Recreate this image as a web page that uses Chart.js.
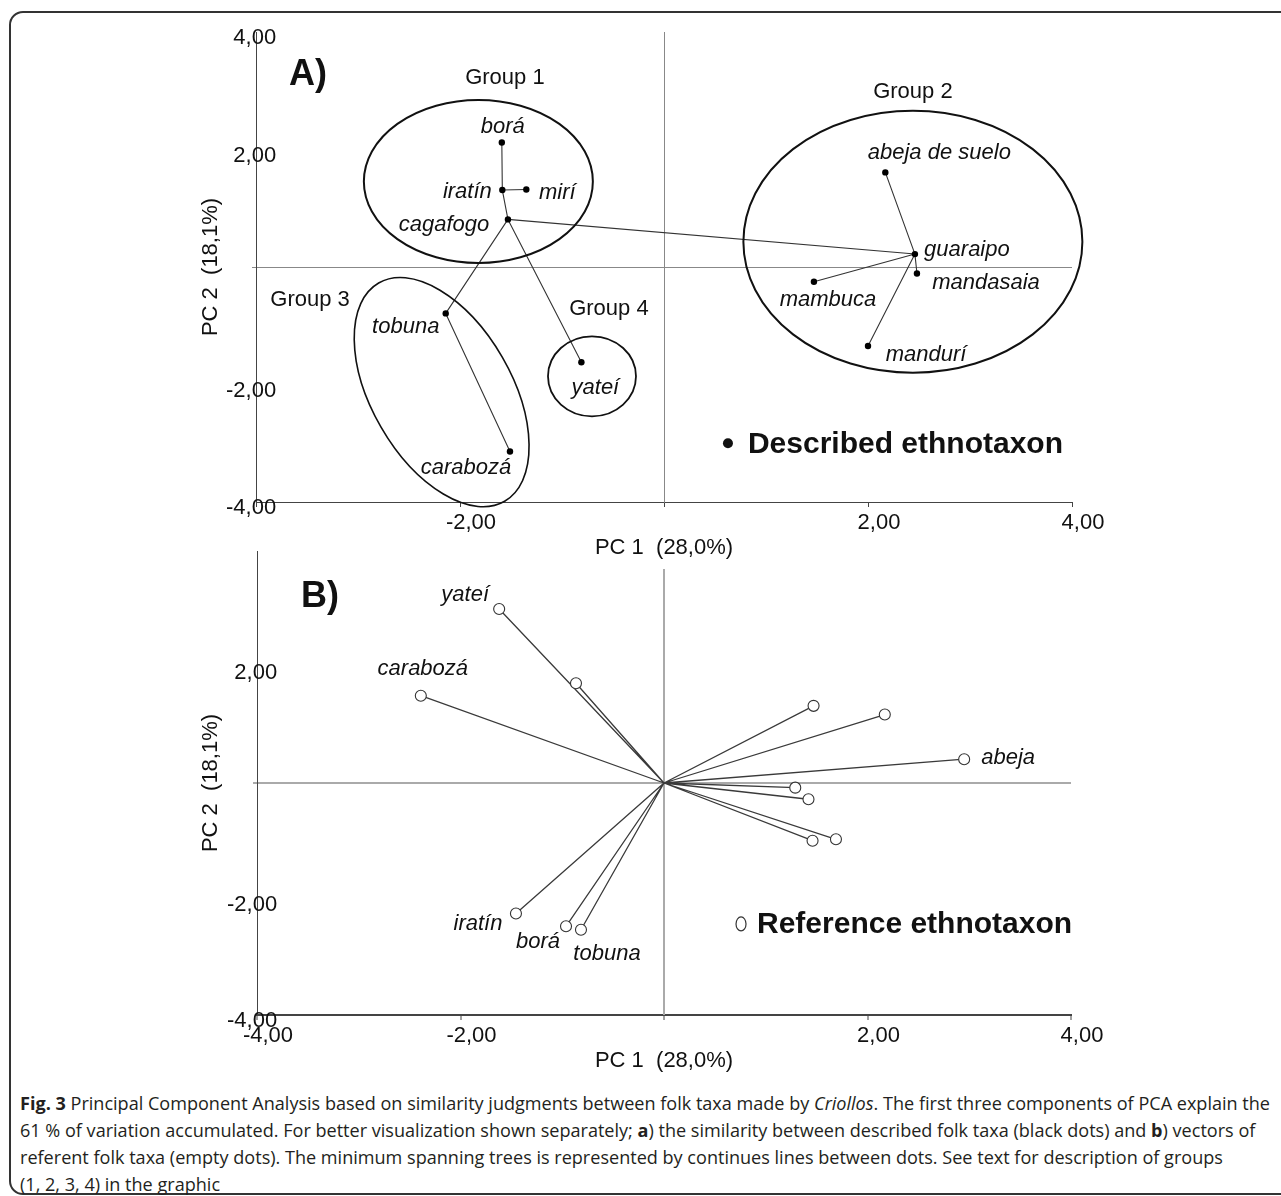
<!DOCTYPE html>
<html>
<head>
<meta charset="utf-8">
<title>PCA folk taxa</title>
<script src="https://cdn.jsdelivr.net/npm/chart.js@4.4.1/dist/chart.umd.min.js"></script>
<style>
  html, body { margin: 0; padding: 0; background: #fff; }
  body { width: 1281px; height: 1196px; position: relative; overflow: hidden; }
  .frame { position: absolute; left: 9px; top: 11px; width: 1330px; height: 1184px;
           border: 2px solid #333; border-radius: 14px; box-sizing: border-box; }
  canvas { position: absolute; left: 0; }
  #chartA { top: 0; }
  #chartB { top: 530px; }
  #caption { position: absolute; left: 20px; top: 1090px; font-family: "Open Sans", sans-serif;
             font-size: 18px; line-height: 27px; color: #231f20; white-space: nowrap; transform-origin: 0 0; }
  #caption div span { display: inline-block; }
</style>
</head>
<body>
<div class="frame"></div>
<canvas id="chartA" width="1281" height="565"></canvas>
<canvas id="chartB" width="1281" height="550"></canvas>
<div id="caption">
  <div><span id="capLine1"><b>Fig. 3</b> Principal Component Analysis based on similarity judgments between folk taxa made by <i>Criollos</i>. The first three components of PCA explain the</span></div>
  <div><span>61 % of variation accumulated. For better visualization shown separately; <b>a</b>) the similarity between described folk taxa (black dots) and <b>b</b>) vectors of</span></div>
  <div><span>referent folk taxa (empty dots). The minimum spanning trees is represented by continues lines between dots. See text for description of groups</span></div>
  <div><span>(1, 2, 3, 4) in the graphic</span></div>
</div>
<script>
// A) 記述された民俗分類群（黒い点）
const taxaA = ['borá', 'iratín', 'mirí', 'cagafogo', 'abeja de suelo', 'guaraipo',
               'mandasaia', 'mambuca', 'mandurí', 'tobuna', 'carabozá', 'yateí'];
const pc1A = [-1.59, -1.585, -1.35, -1.53, 2.17, 2.46, 2.48, 1.47, 2.00, -2.14, -1.51, -0.81];
const pc2A = [2.12, 1.31, 1.32, 0.81, 1.61, 0.22, -0.11, -0.25, -1.345, -0.79, -3.14, -1.62];
// 最小全域木の辺
const treeA = [
  ['borá', 'iratín'], ['iratín', 'mirí'], ['iratín', 'cagafogo'], ['cagafogo', 'guaraipo'],
  ['cagafogo', 'tobuna'], ['cagafogo', 'yateí'], ['tobuna', 'carabozá'],
  ['guaraipo', 'abeja de suelo'], ['guaraipo', 'mambuca'], ['guaraipo', 'mandasaia'], ['guaraipo', 'mandurí']
];

// B) 参照分類群のベクトル（白い点）
const taxaB = ['yateí', '', 'carabozá', '', '', 'abeja', '', '', '', '', 'iratín', 'borá', 'tobuna'];
const pc1B = [-1.62, -0.865, -2.39, 1.47, 2.17, 2.95, 1.29, 1.42, 1.46, 1.69, -1.455, -0.963, -0.816];
const pc2B = [3.00, 1.72, 1.505, 1.33, 1.18, 0.41, -0.08, -0.28, -0.995, -0.97, -2.25, -2.47, -2.53];

// 目盛りラベル
const xTickLabelsA = ['', '-2,00', '', '2,00', '4,00'];
const xTickLabelsB = ['-4,00', '-2,00', '', '2,00', '4,00'];
const yTickLabelsA = ['-4,00', '-2,00', '', '2,00', '4,00'];
const yTickLabelsB = ['-4,00', '-2,00', '', '2,00', ''];
const groupNames = ['Group 1', 'Group 2', 'Group 3', 'Group 4'];

// 注記の配置（データ座標の中心、ピクセルの半径）
const ringsA = [
  { cx: -1.82, cy: 1.455, rx: 114.5, ry: 81.5, rot: 0, lw: 2, lx: -1.56, ly: 3.22 },
  { cx: 2.44, cy: 0.43, rx: 169.5, ry: 131, rot: 0, lw: 2, lx: 2.44, ly: 2.98 },
  { cx: -2.18, cy: -2.13, rx: 70, ry: 126, rot: -30, lw: 1.6, lx: -3.47, ly: -0.56 },
  { cx: -0.706, cy: -1.86, rx: 44, ry: 40, rot: 0, lw: 1.8, lx: -0.54, ly: -0.71 }
];
const labelOffA = {
  'borá': [1, -16], 'iratín': [-35, 2], 'mirí': [31, 3], 'cagafogo': [-64, 5],
  'abeja de suelo': [54, -20], 'guaraipo': [52, -4], 'mandasaia': [69, 9], 'mambuca': [14, 18],
  'mandurí': [58, 9], 'tobuna': [-40, 13], 'carabozá': [-44, 16], 'yateí': [14, 26]
};
const labelOffB = {
  'yateí': [-34, -14], 'carabozá': [2, -27], 'abeja': [44, -1],
  'iratín': [-38, 10], 'borá': [-28, 16], 'tobuna': [26, 24]
};

const FONT = '"Liberation Sans", Arial, sans-serif';
Chart.defaults.font.family = FONT;
Chart.defaults.color = '#111';

function treeSegments(names, xs, ys, pairs) {
  const pts = [];
  pairs.forEach(function (p) {
    const i = names.indexOf(p[0]), j = names.indexOf(p[1]);
    pts.push({ x: xs[i], y: ys[i] }, { x: xs[j], y: ys[j] }, { x: null, y: null });
  });
  return pts;
}

function vectorSegments(xs, ys) {
  const pts = [];
  xs.forEach(function (v, i) {
    pts.push({ x: 0, y: 0 }, { x: v, y: ys[i] }, { x: null, y: null });
  });
  return pts;
}

function points(xs, ys) {
  return xs.map(function (v, i) { return { x: v, y: ys[i] }; });
}

// 楕円・ラベル・凡例を描くプラグイン
const annotations = {
  id: 'annotations',
  beforeDatasetsDraw(chart, args, opts) {
    // B の縦の基準線は上端まで届かない
    if (opts.zeroLineTop === undefined) return;
    const ctx = chart.ctx, xs = chart.scales.x, ys = chart.scales.y;
    const x0 = Math.round(xs.getPixelForValue(0));
    ctx.save();
    ctx.beginPath();
    ctx.moveTo(x0, ys.getPixelForValue(opts.zeroLineTop));
    ctx.lineTo(x0, chart.chartArea.bottom);
    ctx.lineWidth = opts.zeroWidth;
    ctx.strokeStyle = opts.zeroColor;
    ctx.stroke();
    ctx.restore();
  },
  afterDatasetsDraw(chart, args, opts) {
    const ctx = chart.ctx, xs = chart.scales.x, ys = chart.scales.y;
    const px = v => xs.getPixelForValue(v), py = v => ys.getPixelForValue(v);
    ctx.save();
    ctx.fillStyle = '#111';
    ctx.strokeStyle = '#111';
    ctx.textAlign = 'center';
    ctx.textBaseline = 'middle';

    (opts.rings || []).forEach(function (r, i) {
      ctx.beginPath();
      ctx.ellipse(px(r.cx), py(r.cy), r.rx, r.ry, r.rot * Math.PI / 180, 0, Math.PI * 2);
      ctx.lineWidth = r.lw;
      ctx.stroke();
      ctx.font = '22px ' + FONT;
      ctx.fillText(groupNames[i], px(r.lx), py(r.ly));
    });

    ctx.font = 'italic 22px ' + FONT;
    opts.names.forEach(function (n, i) {
      const off = opts.offsets[n];
      if (!n || !off) return;
      ctx.fillText(n, px(opts.xs[i]) + off[0], py(opts.ys[i]) + off[1]);
    });

    ctx.font = 'bold 36px ' + FONT;
    ctx.fillText(opts.panel, px(opts.panelAt[0]), py(opts.panelAt[1]));

    const lx = px(opts.legendAt[0]), ly = py(opts.legendAt[1]);
    ctx.beginPath();
    if (opts.hollow) {
      ctx.ellipse(lx, ly, 5, 7, 0, 0, Math.PI * 2);
      ctx.lineWidth = 1.2;
      ctx.strokeStyle = '#333';
      ctx.stroke();
    } else {
      ctx.arc(lx, ly, 5, 0, Math.PI * 2);
      ctx.fill();
    }
    ctx.font = 'bold 30px ' + FONT;
    ctx.textAlign = 'left';
    ctx.fillText(opts.legend, lx + (opts.hollow ? 16 : 20), ly + 1);
    ctx.restore();
  }
};

function axes(xLabels, yLabels, xZero, zeroColor, zeroWidth, xBorder, yWidth) {
  const tick = { size: 22, family: FONT };
  return {
    x: {
      type: 'linear', min: -4, max: 4,
      ticks: { stepSize: 2, autoSkip: false, maxRotation: 0, labelOffset: 11, padding: 3,
               color: '#111', font: tick, callback: (v, i) => xLabels[i] },
      grid: { color: c => (c.tick && c.tick.value === 0 ? xZero : 'rgba(0,0,0,0)'),
              lineWidth: zeroWidth, tickLength: 5, tickColor: '#444', tickWidth: 1 },
      border: { color: '#444', width: xBorder },
      title: { display: true, text: 'PC 1  (28,0%)', color: '#111', font: tick, padding: { top: 0, bottom: 1 } },
      afterFit: s => { s.height = 60; }
    },
    y: {
      type: 'linear', min: -4, max: 4,
      // ラベルは軸線の上に重ねて右揃え（元図と同じ）
      ticks: { stepSize: 2, autoSkip: false, labelOffset: 6, mirror: true, crossAlign: 'far', padding: -30,
               color: '#111', font: tick, callback: (v, i) => yLabels[i] },
      grid: { color: c => (c.tick && c.tick.value === 0 ? zeroColor : 'rgba(0,0,0,0)'),
              lineWidth: zeroWidth, tickLength: 4,
              tickColor: c => (c.tick && c.tick.value === 0 ? zeroColor : 'rgba(0,0,0,0)') },
      border: { color: '#444', width: 1 },
      title: { display: true, text: 'PC 2  (18,1%)', color: '#111', font: tick, padding: { top: 8, bottom: 0 } },
      afterFit: s => { s.width = yWidth; }
    }
  };
}

// パネルA
new Chart(document.getElementById('chartA'), {
  type: 'scatter',
  data: {
    datasets: [
      { data: points(pc1A, pc2A), pointRadius: 3.2, pointBackgroundColor: '#000', pointBorderWidth: 0 },
      { type: 'line', data: treeSegments(taxaA, pc1A, pc2A, treeA), borderColor: '#333',
        borderWidth: 1.1, pointRadius: 0, spanGaps: false, fill: false, tension: 0 }
    ]
  },
  options: {
    responsive: false, animation: false, devicePixelRatio: 1,
    layout: { padding: { left: 190, right: 209, top: 32, bottom: 3 } },
    scales: axes(xTickLabelsA, yTickLabelsA, '#888', '#888', 1, 1, 66),
    plugins: {
      legend: { display: false }, tooltip: { enabled: false },
      annotations: {
        rings: ringsA, names: taxaA, xs: pc1A, ys: pc2A, offsets: labelOffA,
        panel: 'A)', panelAt: [-3.49, 3.27],
        legend: 'Described ethnotaxon', legendAt: [0.627, -3.0], hollow: false
      }
    }
  },
  plugins: [annotations]
});

// パネルB
new Chart(document.getElementById('chartB'), {
  type: 'scatter',
  data: {
    datasets: [
      { data: points(pc1B, pc2B), pointRadius: 5.5, pointBackgroundColor: '#fff',
        pointBorderColor: '#333', pointBorderWidth: 1.1 },
      { type: 'line', data: vectorSegments(pc1B, pc2B), borderColor: '#3a3a3a',
        borderWidth: 1.3, pointRadius: 0, spanGaps: false, fill: false, tension: 0 }
    ]
  },
  options: {
    responsive: false, animation: false, devicePixelRatio: 1,
    layout: { padding: { left: 190, right: 210, top: 21, bottom: 5 } },
    scales: axes(xTickLabelsB, yTickLabelsB, 'rgba(0,0,0,0)', '#aaa', 2, 2, 67),
    plugins: {
      legend: { display: false }, tooltip: { enabled: false },
      annotations: {
        rings: [], names: taxaB, xs: pc1B, ys: pc2B, offsets: labelOffB,
        panel: 'B)', panelAt: [-3.38, 3.21],
        legend: 'Reference ethnotaxon', legendAt: [0.757, -2.43], hollow: true,
        zeroLineTop: 3.69, zeroColor: '#aaa', zeroWidth: 2
      }
    }
  },
  plugins: [annotations]
});

// キャプションの幅を参照図に合わせる
const cap = document.getElementById('caption');
const w = document.getElementById('capLine1').getBoundingClientRect().width;
cap.style.transform = 'scaleX(' + (1250 / w) + ')';
</script>
</body>
</html>
